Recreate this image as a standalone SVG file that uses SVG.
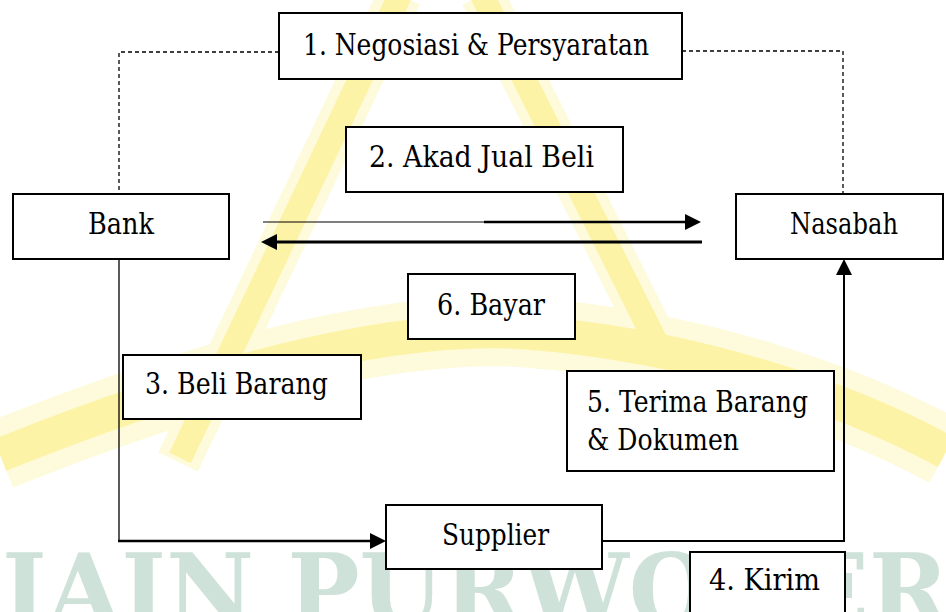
<svg xmlns="http://www.w3.org/2000/svg" width="946" height="612" viewBox="0 0 946 612">
<style>
.box{fill:#fff;stroke:#000;stroke-width:2}
.dash{fill:none;stroke:#000;stroke-width:1.3;stroke-dasharray:4 3}
.ln{fill:none;stroke:#000}
.ywide{fill:none;stroke:#fefadc}
.ycore{fill:none;stroke:#fdf3a6}
.t{font-family:"DejaVu Serif",serif;font-size:30px;fill:#000}
</style>
<rect width="946" height="612" fill="#fff"/>
<g id="watermark">
<path class="ywide" d="M0,455 C200,375 380,325 520,332 C700,345 850,400 946,452" stroke-width="70"/>
<path class="ywide" d="M400,-5 L178,462" stroke-width="44"/>
<path class="ywide" d="M482,-5 L660,350" stroke-width="44"/>
<path class="ycore" d="M0,455 C200,375 380,325 520,332 C700,345 850,400 946,452" stroke-width="34"/>
<path class="ycore" d="M400,-5 L180,458" stroke-width="24"/>
<path class="ycore" d="M482,-5 L655,340" stroke-width="24"/>
<text x="2" y="625" font-family="DejaVu Serif, serif" font-weight="bold" font-size="100" fill="#cfe2d9" textLength="1100" lengthAdjust="spacingAndGlyphs">IAIN PURWOKERTO</text>
</g>
<g id="connectors">
<path class="dash" d="M279,52 H119 V194"/>
<path class="dash" d="M682,51 H843 V194"/>
<line class="ln" x1="263" y1="222" x2="484" y2="222" stroke-width="1.2"/>
<line class="ln" x1="484" y1="222" x2="687" y2="222" stroke-width="2.5"/>
<polygon points="685,214 701,222 685,230" fill="#000"/>
<line class="ln" x1="702" y1="242" x2="276" y2="242" stroke-width="3"/>
<polygon points="277,234 261,242 277,250" fill="#000"/>
<path class="ln" d="M119,259 V541" stroke-width="1.3"/>
<path class="ln" d="M118,541 H372" stroke-width="2.6"/>
<polygon points="370,533 386,541 370,549" fill="#000"/>
<path class="ln" d="M602,541 H844 V273" stroke-width="2"/>
<polygon points="836,275 844,259 852,275" fill="#000"/>
</g>
<g id="n1"><rect class="box" x="279" y="13" width="403" height="66"/><text class="t" x="303" y="55" textLength="346" lengthAdjust="spacingAndGlyphs">1. Negosiasi &amp; Persyaratan</text></g>
<g id="n2"><rect class="box" x="346" y="127" width="277" height="65"/><text class="t" x="369" y="167" textLength="225" lengthAdjust="spacingAndGlyphs">2. Akad Jual Beli</text></g>
<g id="bank"><rect class="box" x="13" y="194" width="216" height="65"/><text class="t" x="88" y="234" textLength="66" lengthAdjust="spacingAndGlyphs">Bank</text></g>
<g id="nasabah"><rect class="box" x="736" y="194" width="207" height="65"/><text class="t" x="790" y="234" textLength="108" lengthAdjust="spacingAndGlyphs">Nasabah</text></g>
<g id="n6"><rect class="box" x="408" y="274" width="167" height="65"/><text class="t" x="437" y="315" textLength="108" lengthAdjust="spacingAndGlyphs">6. Bayar</text></g>
<g id="n3"><rect class="box" x="123" y="355" width="238" height="64"/><text class="t" x="145" y="394" textLength="183" lengthAdjust="spacingAndGlyphs">3. Beli Barang</text></g>
<g id="n5"><rect class="box" x="567" y="371" width="267" height="100"/><text class="t" x="587" y="412" textLength="221" lengthAdjust="spacingAndGlyphs">5. Terima Barang</text><text class="t" x="587" y="450" textLength="152" lengthAdjust="spacingAndGlyphs">&amp; Dokumen</text></g>
<g id="supplier"><rect class="box" x="386" y="505" width="216" height="64"/><text class="t" x="442" y="545" textLength="107" lengthAdjust="spacingAndGlyphs">Supplier</text></g>
<g id="n4"><rect class="box" x="690" y="552" width="155" height="70"/><text class="t" x="709" y="590" textLength="111" lengthAdjust="spacingAndGlyphs">4. Kirim</text></g>
</svg>
